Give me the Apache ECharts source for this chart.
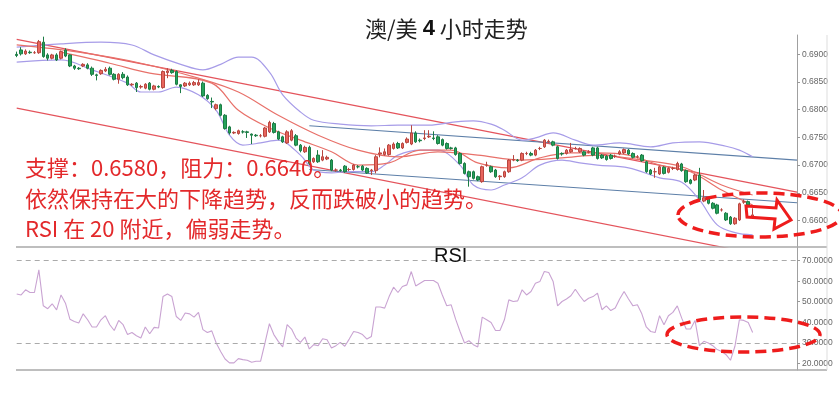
<!DOCTYPE html>
<html><head><meta charset="utf-8">
<script src="https://cdn.jsdelivr.net/npm/echarts@6/dist/echarts.min.js"></script>
<style>html,body{margin:0;padding:0;background:#fff}#c{width:839px;height:404px}</style>
</head><body><div id="c"></div>
<script>
// ---- candle data (AUD/USD 4H) ----
const openP = [.6900,.6908,.6901,.6904,.6903,.6903,.6922,.6899,.6893,.6899,
.6893,.6908,.6899,.6879,.6875,.6879,.6881,.6875,.6863,.6865,
.6870,.6875,.6864,.6855,.6864,.6859,.6845,.6848,.6841,.6839,
.6848,.6837,.6842,.6840,.6867,.6871,.6869,.6845,.6843,.6845,
.6845,.6845,.6848,.6826,.6815,.6802,.6809,.6790,.6769,.6758,
.6757,.6760,.6760,.6756,.6754,.6753,.6752,.6760,.6775,.6760,
.6751,.6740,.6745,.6753,.6736,.6724,.6732,.6706,.6718,.6709,
.6711,.6709,.6691,.6691,.6698,.6692,.6692,.6697,.6698,.6694,
.6690,.6690,.6720,.6719,.6719,.6730,.6739,.6731,.6741,.6738,
.6758,.6745,.6748,.6751,.6749,.6751,.6746,.6739,.6731,.6731,
.6721,.6703,.6688,.6688,.6679,.6670,.6700,.6697,.6691,.6679,
.6679,.6688,.6709,.6709,.6709,.6721,.6721,.6718,.6730,.6733,
.6742,.6742,.6733,.6721,.6721,.6724,.6730,.6724,.6724,.6723,
.6731,.6731,.6718,.6716,.6718,.6716,.6720,.6722,.6727,.6721,
.6715,.6718,.6706,.6691,.6688,.6684,.6696,.6687,.6694,.6692,
.6702,.6690,.6673,.6673,.6682,.6635,.6640,.6631,.6628,.6619,
.6613,.6606,.6594,.6601,.6633,.6634,.6606];
const closeP = [.6898,.6901,.6906,.6903,.6903,.6923,.6896,.6893,.6899,.6890,
.6905,.6897,.6879,.6875,.6874,.6882,.6875,.6864,.6862,.6871,
.6873,.6864,.6855,.6864,.6858,.6845,.6846,.6840,.6842,.6846,
.6837,.6843,.6841,.6869,.6870,.6867,.6846,.6842,.6848,.6848,
.6849,.6849,.6825,.6820,.6814,.6809,.6790,.6766,.6758,.6759,
.6762,.6760,.6759,.6754,.6753,.6753,.6767,.6777,.6759,.6747,
.6742,.6760,.6762,.6736,.6726,.6732,.6703,.6712,.6706,.6715,
.6714,.6691,.6691,.6690,.6688,.6692,.6700,.6697,.6691,.6686,
.6691,.6715,.6722,.6724,.6736,.6738,.6731,.6739,.6747,.6758,
.6742,.6744,.6749,.6752,.6748,.6739,.6736,.6730,.6730,.6719,
.6703,.6685,.6679,.6676,.6673,.6697,.6700,.6688,.6679,.6680,
.6688,.6709,.6710,.6708,.6721,.6721,.6718,.6727,.6730,.6745,
.6743,.6736,.6712,.6720,.6727,.6728,.6730,.6730,.6718,.6724,
.6718,.6712,.6713,.6710,.6712,.6716,.6724,.6728,.6720,.6714,
.6715,.6708,.6688,.6684,.6688,.6697,.6685,.6694,.6694,.6703,
.6690,.6670,.6667,.6682,.6637,.6641,.6631,.6622,.6613,.6619,
.6601,.6594,.6604,.6630,.6634,.6628,.6610];
const highP = [.6905,.6913,.6909,.6907,.6906,.6926,.6932,.6902,.6901,.6902,
.6907,.6911,.6900,.6881,.6877,.6884,.6884,.6878,.6865,.6873,
.6877,.6878,.6866,.6866,.6868,.6862,.6848,.6850,.6845,.6848,
.6850,.6845,.6844,.6871,.6875,.6874,.6871,.6846,.6850,.6851,
.6852,.6855,.6851,.6828,.6822,.6811,.6811,.6792,.6771,.6761,
.6764,.6763,.6762,.6757,.6756,.6756,.6769,.6780,.6778,.6762,
.6753,.6763,.6765,.6756,.6738,.6735,.6735,.6714,.6727,.6727,
.6717,.6711,.6694,.6693,.6700,.6695,.6702,.6700,.6700,.6696,
.6693,.6718,.6732,.6730,.6738,.6741,.6742,.6741,.6750,.6772,
.6761,.6748,.6763,.6763,.6761,.6754,.6748,.6741,.6733,.6733,
.6723,.6705,.6690,.6690,.6681,.6699,.6706,.6699,.6693,.6682,
.6690,.6711,.6718,.6711,.6723,.6724,.6724,.6729,.6733,.6747,
.6746,.6744,.6735,.6723,.6729,.6740,.6733,.6732,.6726,.6727,
.6733,.6733,.6720,.6718,.6720,.6719,.6727,.6730,.6729,.6723,
.6718,.6720,.6708,.6693,.6695,.6699,.6698,.6696,.6697,.6706,
.6704,.6692,.6675,.6684,.6695,.6655,.6642,.6633,.6630,.6622,
.6615,.6608,.6606,.6632,.6638,.6636,.6622];
const lowP = [.6895,.6898,.6899,.6901,.6901,.6901,.6894,.6889,.6891,.6888,
.6891,.6895,.6877,.6872,.6872,.6877,.6873,.6861,.6853,.6863,
.6868,.6862,.6853,.6847,.6855,.6843,.6843,.6832,.6838,.6837,
.6835,.6835,.6839,.6838,.6857,.6865,.6844,.6830,.6841,.6843,
.6843,.6843,.6823,.6818,.6803,.6799,.6788,.6764,.6755,.6756,
.6755,.6757,.6749,.6738,.6751,.6750,.6750,.6758,.6757,.6745,
.6740,.6738,.6743,.6734,.6723,.6722,.6700,.6704,.6704,.6707,
.6709,.6689,.6688,.6688,.6686,.6689,.6690,.6694,.6689,.6684,
.6682,.6685,.6714,.6717,.6717,.6728,.6729,.6729,.6739,.6736,
.6740,.6741,.6745,.6749,.6745,.6737,.6734,.6728,.6728,.6717,
.6701,.6683,.6661,.6674,.6671,.6668,.6697,.6686,.6677,.6673,
.6677,.6686,.6707,.6706,.6707,.6718,.6716,.6716,.6727,.6731,
.6740,.6734,.6710,.6717,.6719,.6722,.6728,.6722,.6716,.6721,
.6716,.6710,.6711,.6708,.6710,.6713,.6718,.6720,.6718,.6712,
.6712,.6706,.6686,.6682,.6677,.6682,.6683,.6685,.6691,.6690,
.6688,.6668,.6665,.6671,.6635,.6633,.6629,.6620,.6611,.6616,
.6599,.6592,.6592,.6599,.6630,.6626,.6604];

// RSI values, one per candle
const rsi = [53.8,53.3,55.8,54.5,54.5,65.5,48,46.6,49,46,
53.3,49.3,41.5,40.4,39.6,44.1,41.2,37.7,37.7,41.2,
43.2,38.8,36,40.9,38.8,34,35,33.4,32.3,37.7,
34.4,37.5,37.2,52.5,53.8,52.5,42.8,40.9,44.5,44.1,
42.5,44.8,36.4,35,35.8,29.9,25.8,22.1,20.2,20.2,
22.3,21.8,21.5,20.5,21,21,29.9,39.3,34,30.7,
28,38.8,36.7,32.3,30.2,32.8,27,29.1,28.6,32,
31.5,27.5,28.6,30.2,28.3,31.8,35.5,35,34,31.8,
33.1,47.4,47.4,46.9,52.5,57.1,54.5,57.4,58.2,64.7,
57.7,59,60.3,60.3,60.3,59,53.3,48,48.5,41.5,
35.5,29.9,31,29.1,28,42.5,41.2,39.9,36,36,
41.2,50.9,50.1,50.4,55.8,53.3,55,59,59.8,64.7,
64.2,59.8,48,50.1,51.3,52.9,56.1,52.9,50.1,51.7,
52.5,54.2,46.1,48,45.7,46.9,51.3,55,51.3,48,
48.5,44.1,37.7,35.5,35,43.2,38.8,43.2,44.8,48,
42,36.7,36.7,40.9,28.6,30.7,29.9,28.6,26.7,25.8,
24.2,21.5,28.3,41.2,40.9,39.9,35];

// indicator lines: [candle index, price]
const bbUpper = [[0,.6913],[10,.6919],[19,.6922],[26,.6917],[31,.6899],[37,.6882],[42,.6872],[46,.6882],[50,.6895],[53,.6895],[57,.6868],[60,.6827],[64,.6796],[67,.6781],[73,.6774],[80,.6771],[86,.6772],[93,.6772],[99,.6778],[103,.6780],[107,.6774],[110,.6763],[114,.6745],[117,.6749],[121,.6758],[126,.6745],[130,.6736],[136,.6740],[143,.6733],[148,.6740],[154,.6742],[160,.6734],[163,.6727],[166,.6715]];
const bbLower = [[0,.6886],[10,.6890],[17,.6872],[25,.6848],[28,.6832],[32,.6832],[36,.6841],[41,.6827],[45,.6799],[48,.6754],[51,.6736],[55,.6740],[59,.6745],[64,.6718],[67,.6691],[71,.6686],[75,.6688],[80,.6688],[83,.6700],[86,.6718],[91,.6727],[95,.6727],[100,.6700],[103,.6664],[107,.6655],[110,.6664],[114,.6677],[118,.6700],[123,.6709],[127,.6704],[131,.6700],[138,.6695],[145,.6677],[150,.6669],[154,.6637],[158,.6592],[162,.6578],[166,.6574]];
const maSlow = [[0,.6917],[14,.6904],[28,.6884],[41,.6857],[50,.6832],[59,.6790],[68,.6754],[77,.6727],[86,.6715],[95,.6724],[104,.6718],[114,.6709],[123,.6713],[131,.6718],[141,.6709],[150,.6697],[159,.6664],[166,.6646]];
const maFast = [[10,.6904],[21,.6884],[30,.6866],[44,.6848],[50,.6799],[57,.6767],[64,.6745],[71,.6724],[77,.6700],[84,.6704],[91,.6727],[98,.6727],[104,.6704],[111,.6695],[118,.6713],[125,.6722],[131,.6722],[138,.6718],[145,.6700],[152,.6688],[159,.6655],[166,.6628]];
// trend lines: [candle index, price]
const redChannelUpper = [[0,.6927],[176,.6651]];
const redChannelLower = [[0,.6803],[176,.6525]];
const blueUpper = [[66,.6771],[176,.6709]];
const blueLower = [[66,.6692],[176,.6632]];

const priceTicks = [0.6600,0.6650,0.6700,0.6750,0.6800,0.6850,0.6900];
const rsiTicks = [20,30,40,50,60,70];
const slots = 177;

const cats = Array.from({length: slots}, (_, i) => 'k' + i);
const candles = openP.map((o, i) => [o, closeP[i], lowP[i], highP[i]]);

const chart = echarts.init(document.getElementById('c'), null, {renderer: 'canvas'});
const lineS = (data, color, w, smooth) => ({
  type: 'line', xAxisIndex: 0, yAxisIndex: 0, data, showSymbol: false, symbol: 'none',
  smooth: smooth ? 0.35 : false, silent: true, z: 1,
  lineStyle: {color, width: w}
});
const axisLabelStyle = {color: '#666', fontSize: 8.5, fontFamily: 'Liberation Sans', margin: 5};
const noteFont = '22px "Noto Sans CJK SC"';

chart.setOption({
  animation: false,
  backgroundColor: '#fff',
  title: {
    text: '{a|澳/美} {b|4} {a|小时走势}',
    left: 360, top: 13,
    textStyle: {rich: {
      a: {fontFamily: 'Noto Sans CJK SC', fontSize: 22, color: '#222', fontWeight: 'normal'},
      b: {fontFamily: 'Liberation Sans', fontSize: 22, color: '#111', fontWeight: 'bold'}
    }}
  },
  grid: [
    {left: 16.7, right: 42, top: 35, height: 212},
    {left: 16.7, right: 42, top: 247, height: 123}
  ],
  xAxis: [
    {type: 'category', gridIndex: 0, data: cats, boundaryGap: false, show: false},
    {type: 'category', gridIndex: 1, data: cats, boundaryGap: false, show: false}
  ],
  yAxis: [
    {type: 'value', gridIndex: 0, position: 'right', min: 0.6552, max: 0.6935, scale: true,
     splitLine: {show: false},
     axisLine: {show: true, lineStyle: {color: '#a0a0a0', width: 1}},
     axisTick: {show: true, length: 3, customValues: priceTicks, lineStyle: {color: '#999'}},
     axisLabel: Object.assign({customValues: priceTicks, formatter: v => v.toFixed(4)}, axisLabelStyle)},
    {type: 'value', gridIndex: 1, position: 'right', min: 16.75, max: 76.65,
     splitLine: {show: false},
     axisLine: {show: true, lineStyle: {color: '#a0a0a0', width: 1}},
     axisTick: {show: true, length: 3, customValues: rsiTicks, lineStyle: {color: '#999'}},
     axisLabel: Object.assign({customValues: rsiTicks, formatter: v => v.toFixed(4)}, axisLabelStyle)}
  ],
  series: [
    lineS(redChannelUpper, '#e4545c', 1.2, false),
    lineS(redChannelLower, '#e4545c', 1.2, false),
    lineS(blueUpper, '#5d7fa8', 1.1, false),
    lineS(blueLower, '#5d7fa8', 1.1, false),
    lineS(bbUpper, '#a79ce8', 1.2, true),
    lineS(bbLower, '#a79ce8', 1.2, true),
    lineS(maSlow, '#e8716a', 1.2, true),
    lineS(maFast, '#e8716a', 1.2, true),
    {type: 'candlestick', xAxisIndex: 0, yAxisIndex: 0, data: candles, barWidth: 3, z: 3,
     itemStyle: {color: '#e8655d', color0: '#25a35b', borderColor: '#b8463f', borderColor0: '#1c7c45', borderWidth: 1}},
    {type: 'line', xAxisIndex: 1, yAxisIndex: 1, data: rsi, showSymbol: false, symbol: 'none', silent: true,
     lineStyle: {color: '#c9a3d2', width: 1.1},
     markLine: {silent: true, symbol: 'none', label: {show: false},
       lineStyle: {color: '#aaaaaa', type: [5, 4], width: 1},
       data: [{yAxis: 70}, {yAxis: 30}]}}
  ],
  graphic: [
    {type: 'line', z: 50, shape: {x1: 16, y1: 247, x2: 827, y2: 247}, style: {stroke: '#a8a8a8', lineWidth: 1.5}},
    {type: 'line', z: 50, shape: {x1: 16, y1: 370, x2: 827, y2: 370}, style: {stroke: '#a8a8a8', lineWidth: 1.5}},
    {type: 'line', z: 50, shape: {x1: 827, y1: 35, x2: 827, y2: 370}, style: {stroke: '#dddddd', lineWidth: 1}},
    {type: 'text', z: 60, x: 434, y: 256, style: {text: 'RSI', fill: '#111', font: '20px "Liberation Sans"', verticalAlign: 'middle'}},
    {type: 'text', z: 60, x: 25, y: 168, style: {text: '支撑：0.6580，阻力：0.6640。', fill: '#e3292b', font: noteFont, verticalAlign: 'middle'}},
    {type: 'text', z: 60, x: 25, y: 199, style: {text: '依然保持在大的下降趋势，反而跌破小的趋势。', fill: '#e3292b', font: noteFont, verticalAlign: 'middle'}},
    {type: 'text', z: 60, x: 25, y: 229, style: {text: 'RSI 在 20 附近，偏弱走势。', fill: '#e3292b', font: noteFont, verticalAlign: 'middle'}},
    {type: 'ellipse', z: 70, shape: {cx: 760, cy: 215, rx: 82, ry: 22}, style: {fill: 'none', stroke: '#ee1c1c', lineWidth: 3.5, lineDash: [11, 6]}},
    {type: 'ellipse', z: 70, shape: {cx: 743.5, cy: 334.5, rx: 76.5, ry: 17.5}, style: {fill: 'none', stroke: '#ee1c1c', lineWidth: 3.5, lineDash: [11, 6]}},
    {type: 'polygon', z: 70, shape: {points: [[746,206],[776,208],[777,200],[791,220],[774,229],[775,219],[747,217]]}, style: {fill: 'none', stroke: '#ee1c1c', lineWidth: 3}}
  ]
});
</script></body></html>
